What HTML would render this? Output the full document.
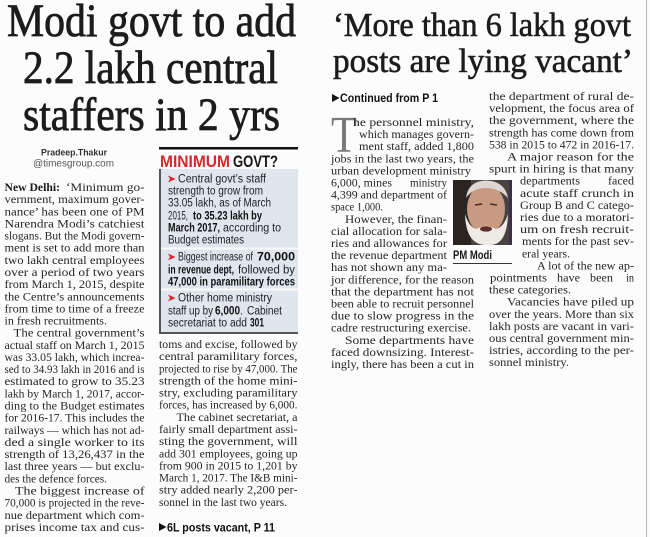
<!DOCTYPE html>
<html><head><meta charset="utf-8"><style>
html,body{margin:0;padding:0;background:#fcfcfc;}
svg{display:block;}
.h{font-family:"Liberation Serif",serif;fill:#1c1c1c;stroke:#1c1c1c;stroke-width:0.8px;}
.b{font-family:"Liberation Serif",serif;font-size:11.8px;fill:#262626;}
.bb{font-family:"Liberation Serif",serif;font-size:11.8px;fill:#1a1a1a;font-weight:bold;}
.s{font-family:"Liberation Sans",sans-serif;font-size:11.5px;fill:#232323;}
.sb{font-family:"Liberation Sans",sans-serif;font-size:11.5px;fill:#111;font-weight:bold;}
</style></head><body>
<svg width="650" height="537" viewBox="0 0 650 537" xmlns="http://www.w3.org/2000/svg">
<rect x="0" y="0" width="650" height="537" fill="#fcfcfc"/>
<line x1="646.5" y1="0" x2="646.5" y2="537" stroke="#b8b8b8" stroke-width="1"/>

<!-- LEFT HEADLINE -->
<text class="h" font-size="47" x="7" y="36" textLength="289" lengthAdjust="spacingAndGlyphs">Modi govt to add</text>
<text class="h" font-size="47" x="23" y="83" textLength="255" lengthAdjust="spacingAndGlyphs">2.2 lakh central</text>
<text class="h" font-size="47" x="23" y="130" textLength="257" lengthAdjust="spacingAndGlyphs">staffers in 2 yrs</text>

<!-- byline -->
<text font-family="Liberation Sans,sans-serif" font-weight="bold" font-size="9.5" fill="#333" x="41" y="155.5" textLength="66" lengthAdjust="spacingAndGlyphs">Pradeep.Thakur</text>
<text font-family="Liberation Sans,sans-serif" font-size="9.8" fill="#555" x="33" y="166.5" textLength="81" lengthAdjust="spacingAndGlyphs">@timesgroup.com</text>

<!-- LEFT COLUMN 1 -->
<text class="bb" x="4.5" y="191" textLength="55.5" lengthAdjust="spacingAndGlyphs">New Delhi:</text>
<text class="b" x="66" y="191" textLength="78.5" lengthAdjust="spacingAndGlyphs">‘Minimum go-</text>
<text class="b" x="4.5" y="203.1" textLength="140" lengthAdjust="spacingAndGlyphs">vernment, maximum gover-</text>
<text class="b" x="4.5" y="215.3" textLength="140" lengthAdjust="spacingAndGlyphs">nance’ has been one of PM</text>
<text class="b" x="4.5" y="227.4" textLength="140" lengthAdjust="spacingAndGlyphs">Narendra Modi’s catchiest</text>
<text class="b" x="4.5" y="239.6" textLength="140" lengthAdjust="spacingAndGlyphs">slogans. But the Modi govern-</text>
<text class="b" x="4.5" y="251.7" textLength="140" lengthAdjust="spacingAndGlyphs">ment is set to add more than</text>
<text class="b" x="4.5" y="263.8" textLength="140" lengthAdjust="spacingAndGlyphs">two lakh central employees</text>
<text class="b" x="4.5" y="276" textLength="140" lengthAdjust="spacingAndGlyphs">over a period of two years</text>
<text class="b" x="4.5" y="288.1" textLength="140" lengthAdjust="spacingAndGlyphs">from March 1, 2015, despite</text>
<text class="b" x="4.5" y="300.3" textLength="140" lengthAdjust="spacingAndGlyphs">the Centre’s announcements</text>
<text class="b" x="4.5" y="312.4" textLength="140" lengthAdjust="spacingAndGlyphs">from time to time of a freeze</text>
<text class="b" x="4.5" y="324.5" textLength="102.5" lengthAdjust="spacingAndGlyphs">in fresh recruitments.</text>
<text class="b" x="13.5" y="336.7" textLength="131" lengthAdjust="spacingAndGlyphs">The central government’s</text>
<text class="b" x="4.5" y="348.8" textLength="140" lengthAdjust="spacingAndGlyphs">actual staff on March 1, 2015</text>
<text class="b" x="4.5" y="361" textLength="140" lengthAdjust="spacingAndGlyphs">was 33.05 lakh, which increa-</text>
<text class="b" x="4.5" y="373.1" textLength="140" lengthAdjust="spacingAndGlyphs">sed to 34.93 lakh in 2016 and is</text>
<text class="b" x="4.5" y="385.2" textLength="140" lengthAdjust="spacingAndGlyphs">estimated to grow to 35.23</text>
<text class="b" x="4.5" y="397.4" textLength="140" lengthAdjust="spacingAndGlyphs">lakh by March 1, 2017, accor-</text>
<text class="b" x="4.5" y="409.5" textLength="140" lengthAdjust="spacingAndGlyphs">ding to the Budget estimates</text>
<text class="b" x="4.5" y="421.7" textLength="140" lengthAdjust="spacingAndGlyphs">for 2016-17. This includes the</text>
<text class="b" x="4.5" y="433.8" textLength="140" lengthAdjust="spacingAndGlyphs">railways — which has not ad-</text>
<text class="b" x="4.5" y="445.9" textLength="140" lengthAdjust="spacingAndGlyphs">ded a single worker to its</text>
<text class="b" x="4.5" y="458.1" textLength="140" lengthAdjust="spacingAndGlyphs">strength of 13,26,437 in the</text>
<text class="b" x="4.5" y="470.2" textLength="140" lengthAdjust="spacingAndGlyphs">last three years — but exclu-</text>
<text class="b" x="4.5" y="482.4" textLength="102.5" lengthAdjust="spacingAndGlyphs">des the defence forces.</text>
<text class="b" x="15" y="494.5" textLength="129.5" lengthAdjust="spacingAndGlyphs">The biggest increase of</text>
<text class="b" x="4.5" y="506.6" textLength="140" lengthAdjust="spacingAndGlyphs">70,000 is projected in the reve-</text>
<text class="b" x="4.5" y="518.8" textLength="140" lengthAdjust="spacingAndGlyphs">nue department which com-</text>
<text class="b" x="4.5" y="530.9" textLength="140" lengthAdjust="spacingAndGlyphs">prises income tax and cus-</text>

<!-- BOX -->
<rect x="159" y="147" width="139" height="2.5" fill="#111"/>
<text font-family="Liberation Sans,sans-serif" font-weight="bold" font-size="16.5" fill="#d32a2e" x="160" y="167" textLength="70" lengthAdjust="spacingAndGlyphs">MINIMUM</text>
<text font-family="Liberation Sans,sans-serif" font-weight="bold" font-size="16.5" fill="#151515" x="233" y="167" textLength="45" lengthAdjust="spacingAndGlyphs">GOVT?</text>
<rect x="160" y="169" width="138" height="164" fill="#dfe6ee"/>
<rect x="160" y="247.5" width="138" height="2" fill="#fbfbfb"/>
<rect x="160" y="288.5" width="138" height="2" fill="#fbfbfb"/>
<rect x="159" y="169" width="2" height="165" fill="#555"/>
<rect x="159" y="332" width="139" height="2" fill="#555"/>

<polygon points="168,175.5 175.5,179 168,182.5 170,179" fill="#d9262b"/>
<text class="s" x="178" y="182.5" textLength="88" lengthAdjust="spacingAndGlyphs">Central govt’s staff</text>
<text class="s" x="168" y="194.5" textLength="95" lengthAdjust="spacingAndGlyphs">strength to grow from</text>
<text class="s" x="168" y="206.5" textLength="103" lengthAdjust="spacingAndGlyphs">33.05 lakh, as of March</text>
<text class="s" x="168" y="219.5" textLength="20" lengthAdjust="spacingAndGlyphs">2015,</text>
<text class="sb" x="193" y="219.5" textLength="69" lengthAdjust="spacingAndGlyphs">to 35.23 lakh by</text>
<text class="sb" x="168" y="231.5" textLength="52" lengthAdjust="spacingAndGlyphs">March 2017,</text>
<text class="s" x="223" y="231.5" textLength="58" lengthAdjust="spacingAndGlyphs">according to</text>
<text class="s" x="168" y="243.5" textLength="76" lengthAdjust="spacingAndGlyphs">Budget estimates</text>

<polygon points="168,253.5 175.5,257 168,260.5 170,257" fill="#d9262b"/>
<text class="s" x="178" y="260.5" textLength="75" lengthAdjust="spacingAndGlyphs">Biggest increase of</text>
<text class="sb" x="257" y="260.5" textLength="38" lengthAdjust="spacingAndGlyphs">70,000</text>
<text class="sb" x="168" y="273.5" textLength="66" lengthAdjust="spacingAndGlyphs">in revenue dept,</text>
<text class="s" x="238" y="273.5" textLength="57" lengthAdjust="spacingAndGlyphs">followed by</text>
<text class="sb" x="168" y="285.5" textLength="127" lengthAdjust="spacingAndGlyphs">47,000 in paramilitary forces</text>

<polygon points="168,294.5 175.5,298 168,301.5 170,298" fill="#d9262b"/>
<text class="s" x="178" y="301.5" textLength="94" lengthAdjust="spacingAndGlyphs">Other home ministry</text>
<text class="s" x="168" y="314.5" textLength="45" lengthAdjust="spacingAndGlyphs">staff up by</text>
<text class="sb" x="215" y="314.5" textLength="25" lengthAdjust="spacingAndGlyphs">6,000</text>
<text class="s" x="240" y="314.5" textLength="3" lengthAdjust="spacingAndGlyphs">.</text>
<text class="s" x="247" y="314.5" textLength="35" lengthAdjust="spacingAndGlyphs">Cabinet</text>
<text class="s" x="168" y="326.5" textLength="79" lengthAdjust="spacingAndGlyphs">secretariat to add</text>
<text class="sb" x="250" y="326.5" textLength="14" lengthAdjust="spacingAndGlyphs">301</text>

<!-- LEFT COLUMN 2 -->
<text class="b" x="159" y="348" textLength="138.5" lengthAdjust="spacingAndGlyphs">toms and excise, followed by</text>
<text class="b" x="159" y="360.1" textLength="138.5" lengthAdjust="spacingAndGlyphs">central paramilitary forces,</text>
<text class="b" x="159" y="372.3" textLength="138.5" lengthAdjust="spacingAndGlyphs">projected to rise by 47,000. The</text>
<text class="b" x="159" y="384.4" textLength="138.5" lengthAdjust="spacingAndGlyphs">strength of the home mini-</text>
<text class="b" x="159" y="396.6" textLength="138.5" lengthAdjust="spacingAndGlyphs">stry, excluding paramilitary</text>
<text class="b" x="159" y="408.7" textLength="138.5" lengthAdjust="spacingAndGlyphs">forces, has increased by 6,000.</text>
<text class="b" x="176.5" y="420.8" textLength="121" lengthAdjust="spacingAndGlyphs">The cabinet secretariat, a</text>
<text class="b" x="159" y="433" textLength="138.5" lengthAdjust="spacingAndGlyphs">fairly small department assi-</text>
<text class="b" x="159" y="445.1" textLength="138.5" lengthAdjust="spacingAndGlyphs">sting the government, will</text>
<text class="b" x="159" y="457.3" textLength="138.5" lengthAdjust="spacingAndGlyphs">add 301 employees, going up</text>
<text class="b" x="159" y="469.4" textLength="138.5" lengthAdjust="spacingAndGlyphs">from 900 in 2015 to 1,201 by</text>
<text class="b" x="159" y="481.5" textLength="138.5" lengthAdjust="spacingAndGlyphs">March 1, 2017. The I&amp;B mini-</text>
<text class="b" x="159" y="493.7" textLength="138.5" lengthAdjust="spacingAndGlyphs">stry added nearly 2,200 per-</text>
<text class="b" x="159" y="505.8" textLength="128" lengthAdjust="spacingAndGlyphs">sonnel in the last two years.</text>
<polygon points="159,523 166.5,527 159,531" fill="#111"/>
<text class="sb" x="167" y="531.5" textLength="108" lengthAdjust="spacingAndGlyphs">6L posts vacant, P 11</text>

<!-- RIGHT HEADLINE -->
<text class="h" font-size="34" x="333" y="36" textLength="298" lengthAdjust="spacingAndGlyphs" style="stroke-width:0.6px">‘More than 6 lakh govt</text>
<text class="h" font-size="34" x="333" y="72" textLength="300" lengthAdjust="spacingAndGlyphs" style="stroke-width:0.6px">posts are lying vacant’</text>

<polygon points="332,94 339.5,98 332,102" fill="#111"/>
<text class="sb" x="340" y="102" textLength="98" lengthAdjust="spacingAndGlyphs">Continued from P 1</text>

<!-- RIGHT COLUMN 3 -->
<text font-family="Liberation Serif,serif" font-size="52" fill="#7a7a7a" x="331" y="152" textLength="26" lengthAdjust="spacingAndGlyphs">T</text>
<text class="b" x="353" y="126" textLength="121" lengthAdjust="spacingAndGlyphs">he personnel ministry,</text>
<text class="b" x="359" y="138.1" textLength="115" lengthAdjust="spacingAndGlyphs">which manages govern-</text>
<text class="b" x="359" y="150.2" textLength="115" lengthAdjust="spacingAndGlyphs">ment staff, added 1,800</text>
<text class="b" x="331" y="162.3" textLength="143" lengthAdjust="spacingAndGlyphs">jobs in the last two years, the</text>
<text class="b" x="331" y="174.4" textLength="140" lengthAdjust="spacingAndGlyphs">urban development ministry</text>
<text class="b" x="331" y="186.5" textLength="61" lengthAdjust="spacingAndGlyphs">6,000, mines</text>
<text class="b" x="410" y="186.5" textLength="37" lengthAdjust="spacingAndGlyphs">ministry</text>
<text class="b" x="331" y="198.6" textLength="116" lengthAdjust="spacingAndGlyphs">4,399 and department of</text>
<text class="b" x="331" y="210.7" textLength="52" lengthAdjust="spacingAndGlyphs">space 1,000.</text>
<text class="b" x="345" y="222.8" textLength="102" lengthAdjust="spacingAndGlyphs">However, the finan-</text>
<text class="b" x="331" y="234.9" textLength="116" lengthAdjust="spacingAndGlyphs">cial allocation for sala-</text>
<text class="b" x="331" y="247" textLength="116" lengthAdjust="spacingAndGlyphs">ries and allowances for</text>
<text class="b" x="331" y="259.1" textLength="116" lengthAdjust="spacingAndGlyphs">the revenue department</text>
<text class="b" x="331" y="271.2" textLength="116" lengthAdjust="spacingAndGlyphs">has not shown any ma-</text>
<text class="b" x="331" y="283.3" textLength="143" lengthAdjust="spacingAndGlyphs">jor difference, for the reason</text>
<text class="b" x="331" y="295.4" textLength="143" lengthAdjust="spacingAndGlyphs">that the department has not</text>
<text class="b" x="331" y="307.5" textLength="143" lengthAdjust="spacingAndGlyphs">been able to recruit personnel</text>
<text class="b" x="331" y="319.6" textLength="143" lengthAdjust="spacingAndGlyphs">due to slow progress in the</text>
<text class="b" x="331" y="331.7" textLength="140" lengthAdjust="spacingAndGlyphs">cadre restructuring exercise.</text>
<text class="b" x="345" y="343.8" textLength="129" lengthAdjust="spacingAndGlyphs">Some departments have</text>
<text class="b" x="331" y="355.9" textLength="143" lengthAdjust="spacingAndGlyphs">faced downsizing. Interest-</text>
<text class="b" x="331" y="368" textLength="143" lengthAdjust="spacingAndGlyphs">ingly, there has been a cut in</text>

<!-- PHOTO -->
<g>
<rect x="453" y="180" width="59" height="65" fill="#4a4240"/>
<rect x="453" y="180" width="18" height="65" fill="#2a2422"/>
<ellipse cx="486" cy="209" rx="19" ry="25" fill="#c99a82"/>
<path d="M466 198 Q468 181 486 180.5 Q505 181 508 198 Q499 188 486 188 Q473 188 466 198Z" fill="#dcd7d3"/>
<path d="M465 214 Q466 245 486 245 L490 245 Q507 245 508 214 Q504 227 496 229 Q486 224 476 229 Q469 227 465 214Z" fill="#eeeae6"/>
<ellipse cx="486" cy="229" rx="6" ry="2.6" fill="#5b2e2e"/>
<path d="M475 205 L482 204 M490 204 L497 205" stroke="#4a2c24" stroke-width="1.4"/>
<rect x="509" y="180" width="3" height="65" fill="#3c3048"/>
</g>
<text font-family="Liberation Sans,sans-serif" font-weight="bold" font-size="11.5" fill="#1a1a1a" x="453" y="259" textLength="39" lengthAdjust="spacingAndGlyphs">PM Modi</text>
<line x1="453" y1="263.5" x2="512" y2="263.5" stroke="#333" stroke-width="1"/>

<!-- RIGHT COLUMN 4 -->
<text class="b" x="489" y="100" textLength="145" lengthAdjust="spacingAndGlyphs">the department of rural de-</text>
<text class="b" x="489" y="112.1" textLength="145" lengthAdjust="spacingAndGlyphs">velopment, the focus area of</text>
<text class="b" x="489" y="124.2" textLength="145" lengthAdjust="spacingAndGlyphs">the government, where the</text>
<text class="b" x="489" y="136.3" textLength="145" lengthAdjust="spacingAndGlyphs">strength has come down from</text>
<text class="b" x="489" y="148.4" textLength="145" lengthAdjust="spacingAndGlyphs">538 in 2015 to 472 in 2016-17.</text>
<text class="b" x="507" y="160.5" textLength="127" lengthAdjust="spacingAndGlyphs">A major reason for the</text>
<text class="b" x="489" y="172.6" textLength="145" lengthAdjust="spacingAndGlyphs">spurt in hiring is that many</text>
<text class="b" x="520" y="184.7" textLength="60" lengthAdjust="spacingAndGlyphs">departments</text>
<text class="b" x="608" y="184.7" textLength="26" lengthAdjust="spacingAndGlyphs">faced</text>
<text class="b" x="520" y="196.8" textLength="114" lengthAdjust="spacingAndGlyphs">acute staff crunch in</text>
<text class="b" x="520" y="208.9" textLength="114" lengthAdjust="spacingAndGlyphs">Group B and C catego-</text>
<text class="b" x="520" y="221" textLength="114" lengthAdjust="spacingAndGlyphs">ries due to a moratori-</text>
<text class="b" x="520" y="233.1" textLength="114" lengthAdjust="spacingAndGlyphs">um on fresh recruit-</text>
<text class="b" x="522" y="245.2" textLength="112" lengthAdjust="spacingAndGlyphs">ments for the past sev-</text>
<text class="b" x="522" y="257.3" textLength="48" lengthAdjust="spacingAndGlyphs">eral years.</text>
<text class="b" x="537" y="269.4" textLength="97" lengthAdjust="spacingAndGlyphs">A lot of the new ap-</text>
<text class="b" x="490" y="281.5" textLength="57" lengthAdjust="spacingAndGlyphs">pointments</text>
<text class="b" x="557" y="281.5" textLength="23" lengthAdjust="spacingAndGlyphs">have</text>
<text class="b" x="590" y="281.5" textLength="23" lengthAdjust="spacingAndGlyphs">been</text>
<text class="b" x="626" y="281.5" textLength="8" lengthAdjust="spacingAndGlyphs">in</text>
<text class="b" x="489" y="293.6" textLength="82" lengthAdjust="spacingAndGlyphs">these categories.</text>
<text class="b" x="507" y="305.7" textLength="127" lengthAdjust="spacingAndGlyphs">Vacancies have piled up</text>
<text class="b" x="489" y="317.8" textLength="145" lengthAdjust="spacingAndGlyphs">over the years. More than six</text>
<text class="b" x="489" y="329.9" textLength="145" lengthAdjust="spacingAndGlyphs">lakh posts are vacant in vari-</text>
<text class="b" x="489" y="342" textLength="145" lengthAdjust="spacingAndGlyphs">ous central government min-</text>
<text class="b" x="489" y="354.1" textLength="145" lengthAdjust="spacingAndGlyphs">istries, according to the per-</text>
<text class="b" x="489" y="366.2" textLength="80" lengthAdjust="spacingAndGlyphs">sonnel ministry.</text>
</svg>
</body></html>
